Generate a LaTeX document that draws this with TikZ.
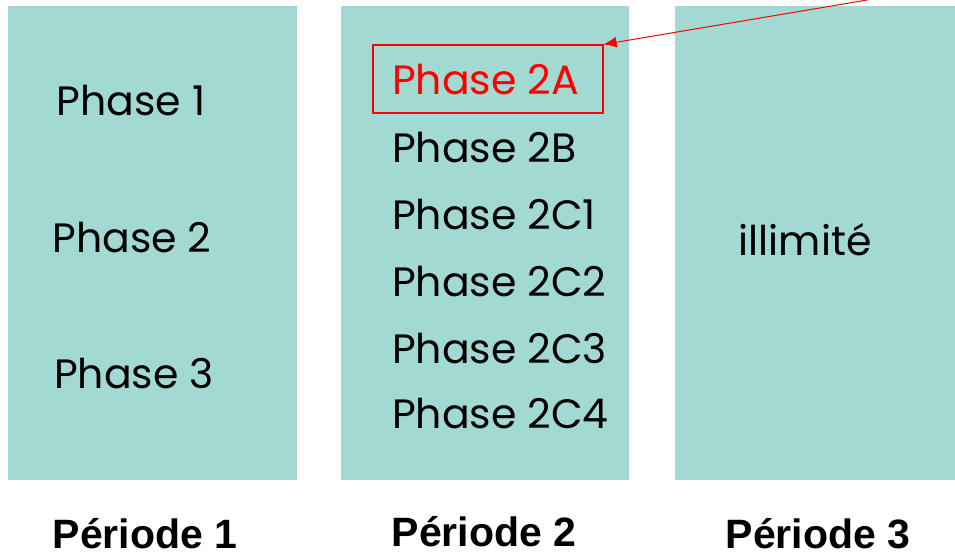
\documentclass[tikz,border=0pt]{standalone}
\usepackage{fontspec}
\usetikzlibrary{arrows.meta}
\setmainfont{Poppins}
\newfontfamily\labfont{Liberation Sans}
\definecolor{teal}{HTML}{A2DAD3}
\begin{document}
\begin{tikzpicture}[x=1pt,y=-1pt,
  col/.style={fill=teal,draw=none},
  ph/.style={font=\fontsize{41}{43}\selectfont,inner sep=0pt},
  phl/.style={ph,anchor=west},
  lab/.style={font=\labfont\bfseries\fontsize{41}{43}\selectfont,inner sep=0pt}]
\useasboundingbox (0,0) rectangle (955,557);
\fill[col] (8,6) rectangle (297,480);
\fill[col] (341,6) rectangle (629,480);
\fill[col] (675,6) rectangle (955,480);
\node[ph] (p1) at (131,101) {Phase 1};
\node[ph] (p2) at (132,238) {Phase 2};
\node[ph] (p3) at (134,374) {Phase 3};
\node[phl,text=red] (a) at (392,80) {Phase 2A};
\node[draw=red,line width=1.2pt,minimum width=230pt,minimum height=68pt] (abox) at (488,79) {};
\node[phl] (b) at (392,148) {Phase 2B};
\node[phl] (c1) at (392,215) {Phase 2C1};
\node[phl] (c2) at (392,282) {Phase 2C2};
\node[phl] (c3) at (392,349) {Phase 2C3};
\node[phl] (c4) at (392,414) {Phase 2C4};
\node[ph] (ill) at (805,240) {illimité};
\node[lab] (l1) at (145,534) {Période 1};
\node[lab] (l2) at (484,532) {Période 2};
\node[lab] (l3) at (818,534) {Période 3};
\coordinate (src) at (867,0);
\draw[red,line width=1pt,-{Latex[length=13pt,width=11pt]}] (src) -- (abox.north east);
\end{tikzpicture}
\end{document}
